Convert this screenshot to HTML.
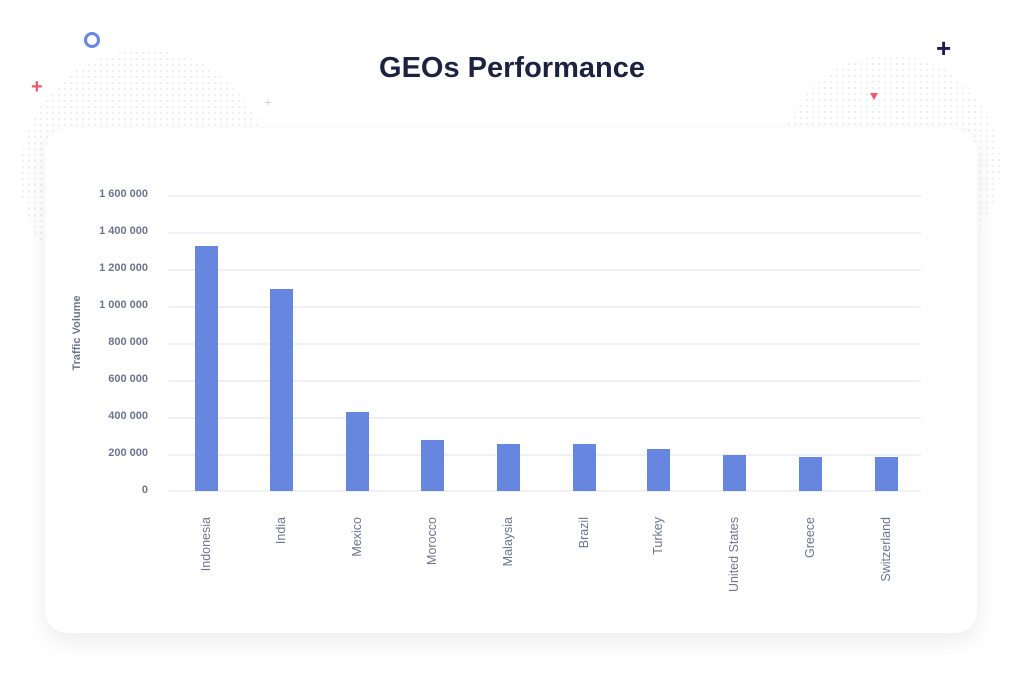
<!DOCTYPE html><html><head><style>
body{margin:0;width:1024px;height:690px;background:#fff;position:relative;overflow:hidden;font-family:"Liberation Sans",sans-serif}
.dots{position:absolute;border-radius:50%;background-image:radial-gradient(#efeff3 1px,transparent 1.3px);background-size:6px 6px}
.card{position:absolute;left:45px;top:129px;width:932px;height:504px;background:#fff;border-radius:22px;box-shadow:0 8px 24px rgba(0,0,0,.08)}
.t{position:absolute;left:0;width:1024px;top:52px;text-align:center;font-weight:bold;font-size:29px;color:#1b2340}
</style></head><body>
<div class="dots" style="left:20px;top:50px;width:250px;height:250px"></div>
<div class="dots" style="left:780px;top:55px;width:220px;height:220px"></div>
<div class="t">GEOs Performance</div>
<div style="position:absolute;left:84px;top:32px;width:10px;height:10px;border:3px solid #6a86e0;border-radius:50%"></div>
<div style="position:absolute;left:31px;top:77px;color:#f05a6b;font-size:20px;font-weight:bold;line-height:1">+</div>
<div style="position:absolute;left:264px;top:95px;color:#cfd9ef;font-size:14px;line-height:1">+</div>
<div style="position:absolute;left:936px;top:35px;color:#1d1a5c;font-size:26px;font-weight:bold;line-height:1">+</div>
<div style="position:absolute;left:870px;top:93px;width:0;height:0;border-left:4px solid transparent;border-right:4px solid transparent;border-top:7px solid #f05a6b"></div>
<div class="card"></div>
<svg style="position:absolute;left:0;top:0" width="1024" height="690">
<g stroke="#ececf7" stroke-width="1.5">
<line x1="168" x2="921" y1="196" y2="196"/><line x1="168" x2="921" y1="233" y2="233"/><line x1="168" x2="921" y1="270" y2="270"/><line x1="168" x2="921" y1="307" y2="307"/><line x1="168" x2="921" y1="344" y2="344"/><line x1="168" x2="921" y1="381" y2="381"/><line x1="168" x2="921" y1="418" y2="418"/><line x1="168" x2="921" y1="455" y2="455"/><line x1="168" x2="921" y1="491" y2="491"/>
</g>
<g font-family="Liberation Sans" font-size="11" font-weight="bold" fill="#6b7590" text-anchor="end">
<text x="148" y="197">1 600 000</text><text x="148" y="234">1 400 000</text><text x="148" y="271">1 200 000</text><text x="148" y="308">1 000 000</text><text x="148" y="345">800 000</text><text x="148" y="382">600 000</text><text x="148" y="419">400 000</text><text x="148" y="456">200 000</text><text x="148" y="493">0</text>
</g>
<text transform="translate(80,333) rotate(-90)" text-anchor="middle" font-family="Liberation Sans" font-size="11" font-weight="bold" fill="#6b7590">Traffic Volume</text>
<g fill="#6786e0">
<rect x="195" y="246" width="23" height="245"/><rect x="270" y="289" width="23" height="202"/><rect x="346" y="412" width="23" height="79"/><rect x="421" y="440" width="23" height="51"/><rect x="497" y="444" width="23" height="47"/><rect x="573" y="444" width="23" height="47"/><rect x="647" y="449" width="23" height="42"/><rect x="723" y="455" width="23" height="36"/><rect x="799" y="457" width="23" height="34"/><rect x="875" y="457" width="23" height="34"/>
</g>
<g font-family="Liberation Sans" font-size="12.5" fill="#6b7590" text-anchor="end">
<text transform="translate(210,517) rotate(-90)">Indonesia</text>
<text transform="translate(285,517) rotate(-90)">India</text>
<text transform="translate(361,517) rotate(-90)">Mexico</text>
<text transform="translate(436,517) rotate(-90)">Morocco</text>
<text transform="translate(512,517) rotate(-90)">Malaysia</text>
<text transform="translate(588,517) rotate(-90)">Brazil</text>
<text transform="translate(662,517) rotate(-90)">Turkey</text>
<text transform="translate(738,517) rotate(-90)">United States</text>
<text transform="translate(814,517) rotate(-90)">Greece</text>
<text transform="translate(890,517) rotate(-90)">Switzerland</text>
</g>
</svg>
</body></html>
